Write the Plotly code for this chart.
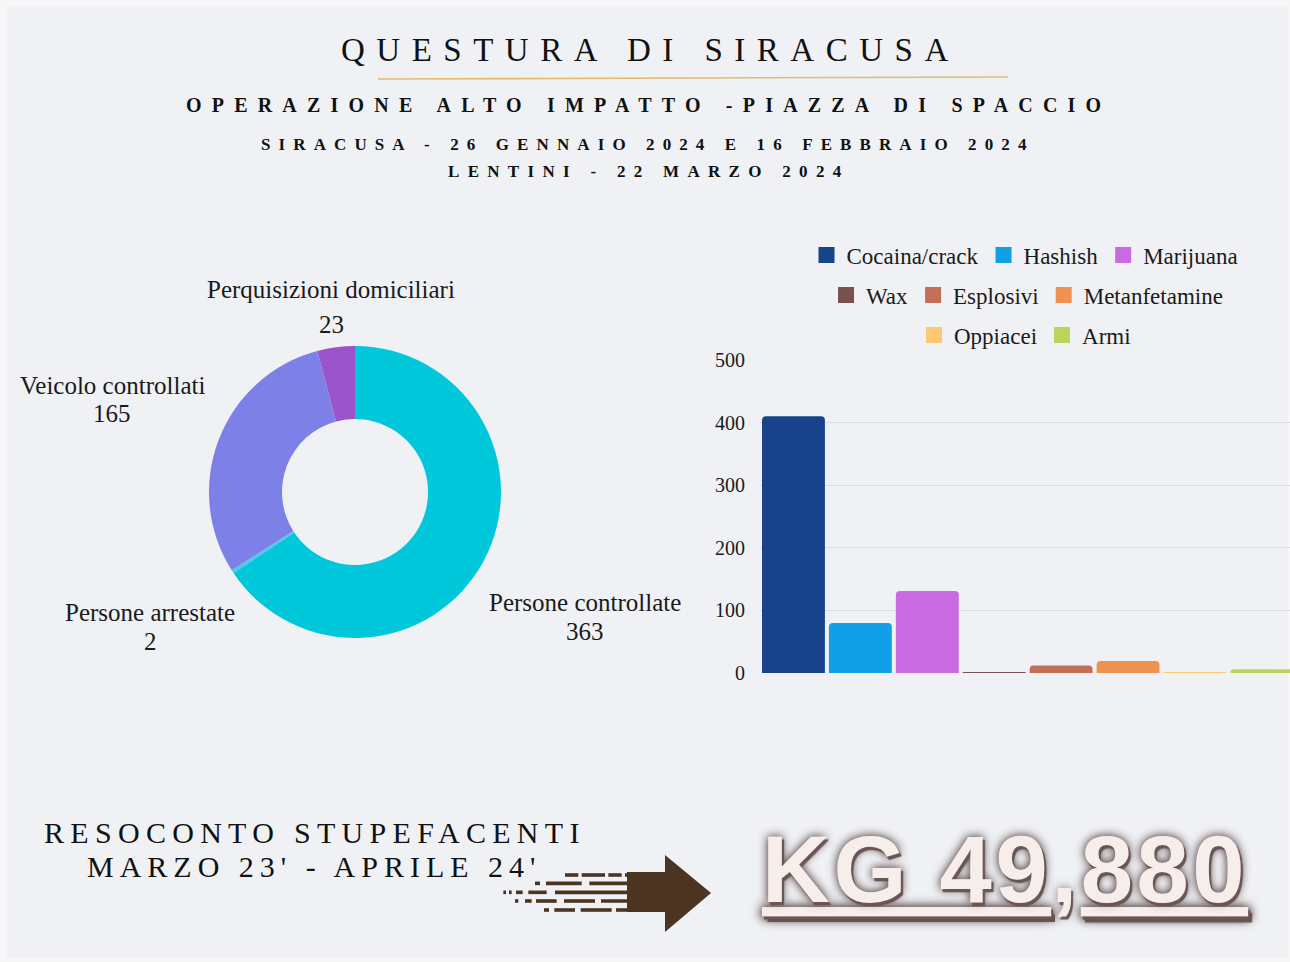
import plotly.graph_objects as go

W, H = 1290, 962

# ---------------- data ----------------
pie_labels = ["Persone controllate", "Persone arrestate", "Veicolo controllati", "Perquisizioni domiciliari"]
pie_values = [363, 2, 165, 23]
pie_colors = ["#00C8DA", "#55C3EE", "#7D80E6", "#9A53CB"]

drug_names = ["Cocaina/crack", "Hashish", "Marijuana", "Wax", "Esplosivi", "Metanfetamine", "Oppiacei", "Armi"]
drug_values = [410, 80, 131, 1.5, 12, 19, 1.2, 6]
drug_colors = ["#18428A", "#0FA0E8", "#C96AE2", "#7B5052", "#C36F58", "#EF9150", "#FFC86E", "#BCD35E"]
drug_legend = ["legend", "legend", "legend", "legend2", "legend2", "legend2", "legend3", "legend3"]

y_ticks = [0, 100, 200, 300, 400, 500]

title_main = "QUESTURA DI SIRACUSA"
subtitle = "OPERAZIONE ALTO IMPATTO -PIAZZA DI SPACCIO"
line3 = "SIRACUSA - 26 GENNAIO 2024 E 16 FEBBRAIO 2024"
line4 = "LENTINI - 22 MARZO 2024"
resoconto = ["RESOCONTO STUPEFACENTI", "MARZO 23' - APRILE 24'"]
total_kg = "KG 49,880"


def px(x):
    return x / W


def py(y):
    return 1 - y / H


SERIF = "Liberation Serif, Times New Roman, serif"

fig = go.Figure()

# donut
fig.add_trace(go.Pie(
    labels=pie_labels, values=pie_values, hole=0.5, sort=False, direction="clockwise",
    rotation=0, marker=dict(colors=pie_colors, line=dict(width=0)),
    textinfo="none", showlegend=False, automargin=False,
    domain=dict(x=[px(209), px(501)], y=[py(638), py(346)]),
))

# bars (one trace per category) + square legend swatches
for name, val, col, lg in zip(drug_names, drug_values, drug_colors, drug_legend):
    fig.add_trace(go.Bar(
        x=[name], y=[val], name=name, marker=dict(color=col, line=dict(width=0)),
        xaxis="x", yaxis="y", showlegend=False, legendgroup=name,
    ))
    fig.add_trace(go.Scatter(
        x=[None], y=[None], mode="markers", name=name, legend=lg, legendgroup=name,
        marker=dict(symbol="square", size=22, color=col, line=dict(width=0)),
        xaxis="x", yaxis="y", hoverinfo="skip",
    ))

annotations = []


def spaced(text, sp, extra=""):
    return f'<span style="letter-spacing:{sp}px;{extra}">{text}</span>'


def ann(text, x, y, size, family=SERIF, color="#111111", **kw):
    font = dict(family=family, size=size, color=color)
    font.update(kw.pop("font_extra", {}))
    d = dict(text=text, x=px(x), y=py(y), xref="paper", yref="paper", showarrow=False,
             font=font, xanchor="center", yanchor="middle")
    d.update(kw)
    annotations.append(d)


ann(spaced(title_main, 11.5), 650, 50, 33)
ann("<b>" + spaced(subtitle, 10.2) + "</b>", 648, 105, 20)
ann("<b>" + spaced(line3, 8.1) + "</b>", 648, 145, 17)
ann("<b>" + spaced(line4, 8.3) + "</b>", 649, 171, 17)

# donut labels (name line + value line)
label_pos = [(585, 602, 631), (150, 612, 641), (112, 385, 413), (331, 290, 324)]
for lab, val, (lx, ly1, ly2) in zip(pie_labels, pie_values, label_pos):
    ann(lab, lx, ly1, 25, color="#1a1a1a")
    ann(str(val), lx, ly2, 25, color="#1a1a1a")

# bottom texts
ann(spaced(resoconto[0], 6.3), 315, 832, 30)
ann(spaced(resoconto[1], 6.0), 314, 866, 30)
kg_head, kg_tail = total_kg.split(",")
UL = "letter-spacing:3.5px;text-decoration:underline;text-decoration-thickness:6px;text-underline-offset:3px"
kg_text = (f'<span style="{UL}">{kg_head}</span>'
           f'<span style="letter-spacing:3.5px">,</span>'
           f'<span style="{UL}">{kg_tail}</span>')
ann(kg_text, 1005, 869, 94,
    family="Liberation Sans, Arial, sans-serif", color="#F6EEEA",
    font_extra=dict(weight=700,
                    shadow="2px 3px 1px #6b5654, 0px 0px 10px rgba(80,60,60,0.7)"))

shapes = []
# background panel
shapes.append(dict(type="rect", xref="paper", yref="paper", x0=px(6), x1=px(1288), y0=py(958), y1=py(6),
                   fillcolor="#EFF1F5", line=dict(width=0), layer="below"))
# gold rule under title
shapes.append(dict(type="line", xref="paper", yref="paper", x0=px(378), x1=px(1008), y0=py(79), y1=py(77),
                   line=dict(color="rgba(226,178,92,0.85)", width=1.6)))

# arrow (decoration)
ARROW = "#4B3421"
head = f"M {px(665)},{py(855)} L {px(711)},{py(893)} L {px(665)},{py(932)} Z"
shapes.append(dict(type="path", xref="paper", yref="paper", path=head, fillcolor=ARROW, line=dict(width=0)))
shapes.append(dict(type="rect", xref="paper", yref="paper", x0=px(627), x1=px(666), y0=py(912), y1=py(872),
                   fillcolor=ARROW, line=dict(width=0)))
dash_rows = [
    (105, [(225, 265), (275, 345), (355, 395), (405, 440)]),
    (130, [(135, 150), (168, 275), (298, 440)]),
    (157, [(40, 48), (57, 65), (78, 98), (115, 170), (195, 440)]),
    (183, [(75, 85), (105, 125), (138, 200), (222, 315), (333, 440)]),
    (210, [(162, 177), (193, 255), (272, 365), (378, 440)]),
]
for yy, segs in dash_rows:
    yc = 840 + yy / 3
    for a, b in segs:
        shapes.append(dict(type="rect", xref="paper", yref="paper", x0=px(490 + a / 3), x1=px(490 + b / 3),
                           y0=py(yc + 1.8), y1=py(yc - 1.8), fillcolor=ARROW, line=dict(width=0)))

legend_common = dict(orientation="h", xanchor="center", yanchor="middle", bgcolor="rgba(0,0,0,0)",
                     itemsizing="trace", itemwidth=30,
                     font=dict(family=SERIF, size=23, color="#1a1a1a"), itemclick=False, itemdoubleclick=False)

fig.update_layout(
    width=W, height=H, margin=dict(l=0, r=0, t=0, b=0, autoexpand=False),
    paper_bgcolor="#F7F7F8", plot_bgcolor="rgba(0,0,0,0)",
    barmode="overlay", bargap=0.06, barcornerradius=4,
    xaxis=dict(domain=[px(760), 1], type="category", categoryorder="array", categoryarray=drug_names,
               range=[-0.5, 7.42], showticklabels=False, showgrid=False, zeroline=False, showline=False,
               fixedrange=True, automargin=False),
    yaxis=dict(domain=[py(673), py(360)], range=[0, 500], tickvals=y_ticks, showgrid=True,
               gridcolor="#DADCE1", gridwidth=1, zeroline=False, showline=False, ticklabelstandoff=14,
               tickfont=dict(family=SERIF, size=20, color="#1a1a1a"), fixedrange=True, automargin=False),
    legend=dict(x=px(1025), y=py(255), **legend_common),
    legend2=dict(x=px(1027), y=py(295), **legend_common),
    legend3=dict(x=px(1025), y=py(335), **legend_common),
    annotations=annotations, shapes=shapes,
)

fig.write_html(
    "out.html",
    config={"displayModeBar": False},
    post_script="document.body.style.margin='0';document.body.style.overflow='hidden';",
)
